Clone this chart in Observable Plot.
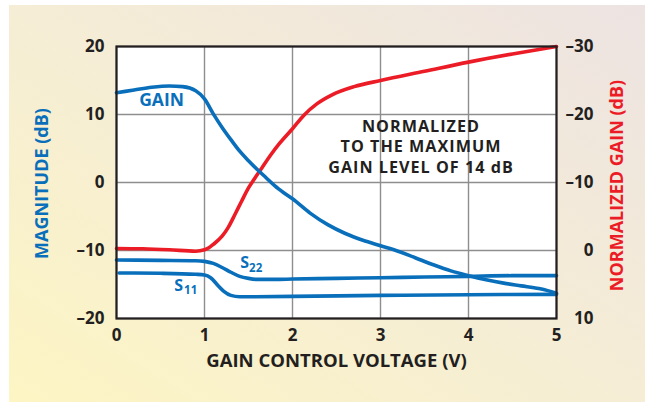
<!DOCTYPE html>
<html>
<head>
<meta charset="utf-8">
<script src="https://cdn.jsdelivr.net/npm/d3@7"></script>
<script src="https://cdn.jsdelivr.net/npm/@observablehq/plot@0.6"></script>
<style>
  html, body { margin: 0; padding: 0; background: #ffffff; width: 645px; height: 402px; overflow: hidden; }
  #bg { position: absolute; left: 9px; top: 5px; right: 0; bottom: 0;
        background: linear-gradient(to top right, #fdf5c3 0%, #f5edd5 50%, #ede3e2 100%); }
  #chart { position: absolute; left: 0; top: 0; }
</style>
</head>
<body>
<div id="bg"></div>
<div id="chart"></div>
<script>
// ---- data ----
const gainV  = [0, 0.2, 0.4, 0.6, 0.75, 0.9, 1.0, 1.1, 1.2, 1.3, 1.4, 1.5, 1.6, 1.7, 1.8, 1.9, 2.0, 2.2, 2.4, 2.6, 2.8, 3.0, 3.2, 3.4, 3.6, 3.8, 4.0, 4.2, 4.4, 4.6, 4.8, 4.9, 5.0];
const gainDb = [13.2, 13.6, 14.0, 14.2, 14.1, 13.5, 12.3, 10.1, 8.1, 6.3, 4.6, 3.2, 1.9, 0.7, -0.5, -1.5, -2.4, -4.5, -6.2, -7.5, -8.5, -9.3, -10.1, -11.1, -12.1, -13.0, -13.7, -14.3, -14.8, -15.2, -15.6, -15.9, -16.3];

const s22V  = [0, 0.5, 0.9, 1.0, 1.1, 1.2, 1.3, 1.4, 1.5, 1.6, 1.8, 2.0, 2.5, 3.0, 3.5, 4.0, 4.5, 5.0];
const s22Db = [-11.4, -11.45, -11.5, -11.6, -11.9, -12.5, -13.2, -13.8, -14.1, -14.25, -14.25, -14.2, -14.1, -14.0, -13.9, -13.8, -13.7, -13.7];

const s11V  = [0.03, 0.5, 0.9, 1.0, 1.07, 1.15, 1.22, 1.3, 1.4, 1.5, 2.0, 3.0, 4.0, 5.0];
const s11Db = [-13.3, -13.35, -13.5, -13.6, -14.0, -15.1, -16.0, -16.6, -16.8, -16.8, -16.75, -16.6, -16.5, -16.45];

// normalized gain, right-axis units (dB)
const normV  = [0, 0.3, 0.6, 0.9, 1.0, 1.05, 1.1, 1.2, 1.27, 1.35, 1.42, 1.5, 1.57, 1.65, 1.75, 1.85, 2.0, 2.13, 2.28, 2.45, 2.7, 3.0, 3.5, 4.0, 4.5, 5.0];
const normDb = [-0.3, -0.25, -0.1, 0.1, -0.1, -0.4, -0.9, -2.1, -3.4, -5.4, -7.2, -9.2, -10.6, -12.1, -14.0, -15.7, -17.9, -19.9, -21.6, -22.9, -24.1, -25.0, -26.35, -27.7, -28.9, -30.0];

const xTicks = [0, 1, 2, 3, 4, 5];
const leftTicks = [20, 10, 0, -10, -20];
const rightTicks = [-30, -20, -10, 0, 10];

const noteLines = ["NORMALIZED", "TO THE MAXIMUM", "GAIN LEVEL OF 14 dB"];
const noteV = [3.46, 3.46, 3.46];
const noteDb = [8.24, 5.29, 2.2];

// right axis value r maps onto the left scale as -10 - r
const toLeft = r => -10 - r;
const fmt = v => (v < 0 ? "\u2013" + Math.abs(v) : String(v));

const gain = gainV.map((v, i) => ({v, db: gainDb[i]}));
const s22 = s22V.map((v, i) => ({v, db: s22Db[i]}));
const s11 = s11V.map((v, i) => ({v, db: s11Db[i]}));
const norm = normV.map((v, i) => ({v, db: toLeft(normDb[i])}));
const notes = noteLines.map((t, i) => ({t, v: noteV[i], db: noteDb[i]}));

const BLUE = "#0a6fbb";
const RED = "#ec1c27";
const INK = "#231f20";
const FONT = "'Open Sans', Lato, sans-serif";

const chart = Plot.plot({
  width: 645,
  height: 402,
  marginLeft: 116,
  marginRight: 89,
  marginTop: 46,
  marginBottom: 84,
  style: {background: "transparent", fontFamily: FONT, fontWeight: 700, fontSize: "17px", color: INK, overflow: "visible"},
  x: {domain: [0, 5]},
  y: {domain: [-20, 20]},
  marks: [
    Plot.frame({fill: "white", stroke: null}),
    Plot.gridX(xTicks, {stroke: "#8e8e8e", strokeOpacity: 1, strokeWidth: 1.4}),
    Plot.gridY(leftTicks, {stroke: "#8e8e8e", strokeOpacity: 1, strokeWidth: 1.4}),
    Plot.line(norm, {x: "v", y: "db", stroke: RED, strokeWidth: 3.6, curve: "monotone-x"}),
    Plot.line(s11, {x: "v", y: "db", stroke: BLUE, strokeWidth: 3.6, curve: "monotone-x"}),
    Plot.line(s22, {x: "v", y: "db", stroke: BLUE, strokeWidth: 3.6, curve: "monotone-x"}),
    Plot.line(gain, {x: "v", y: "db", stroke: BLUE, strokeWidth: 3.6, curve: "monotone-x"}),
    Plot.frame({stroke: INK, strokeWidth: 2.2}),
    Plot.axisX(xTicks, {tickSize: 0, tickPadding: 10, tickFormat: fmt, label: null, fill: INK, fontSize: 17}),
    Plot.axisY(leftTicks, {anchor: "left", tickSize: 0, tickPadding: 12, tickFormat: fmt, label: null, fill: INK, fontSize: 17}),
    Plot.axisY(rightTicks.map(toLeft), {anchor: "right", tickSize: 0, tickPadding: 37, textAnchor: "end",
      tickFormat: (d) => fmt(-10 - d), label: null, fill: INK, fontSize: 17}),
    // axis titles
    Plot.text(["GAIN CONTROL VOLTAGE (V)"], {frameAnchor: "bottom", textAnchor: "middle", dy: 43, lineAnchor: "middle", fill: INK, fontSize: 18.5, fontWeight: 700}),
    Plot.text(["MAGNITUDE (dB)"], {frameAnchor: "left", textAnchor: "middle", dx: -74.5, dy: 1, rotate: -90, lineAnchor: "middle", fill: BLUE, fontSize: 18, fontWeight: 700}),
    Plot.text(["NORMALIZED GAIN (dB)"], {frameAnchor: "right", textAnchor: "middle", dx: 60.5, dy: 3, rotate: -90, lineAnchor: "middle", fill: RED, fontSize: 18, fontWeight: 700}),
    // annotations
    Plot.text(["GAIN"], {x: [0.512], y: [12.06], fill: BLUE, fontSize: 17.5, fontWeight: 700, lineAnchor: "middle"}),
    Plot.text(notes, {x: "v", y: "db", text: "t", fill: INK, fontSize: 16.2, fontWeight: 700, lineAnchor: "middle"}),
    Plot.text(["S"], {x: [1.405], y: [-11.84], fill: BLUE, fontSize: 16, fontWeight: 700, textAnchor: "start", lineAnchor: "middle"}),
    Plot.text(["22"], {x: [1.507], y: [-12.57], fill: BLUE, fontSize: 11.5, fontWeight: 700, textAnchor: "start", lineAnchor: "middle"}),
    Plot.text(["S"], {x: [0.655], y: [-15.22], fill: BLUE, fontSize: 16, fontWeight: 700, textAnchor: "start", lineAnchor: "middle"}),
    Plot.text(["11"], {x: [0.768], y: [-15.84], fill: BLUE, fontSize: 11.5, fontWeight: 700, textAnchor: "start", lineAnchor: "middle"})
  ]
});

// widen the note lines slightly to match the reference's wider typeface
d3.select(chart).selectAll("text")
  .filter(function() { return noteLines.includes(this.textContent); })
  .style("letter-spacing", "1px");

document.getElementById("chart").appendChild(chart);
</script>
</body>
</html>
